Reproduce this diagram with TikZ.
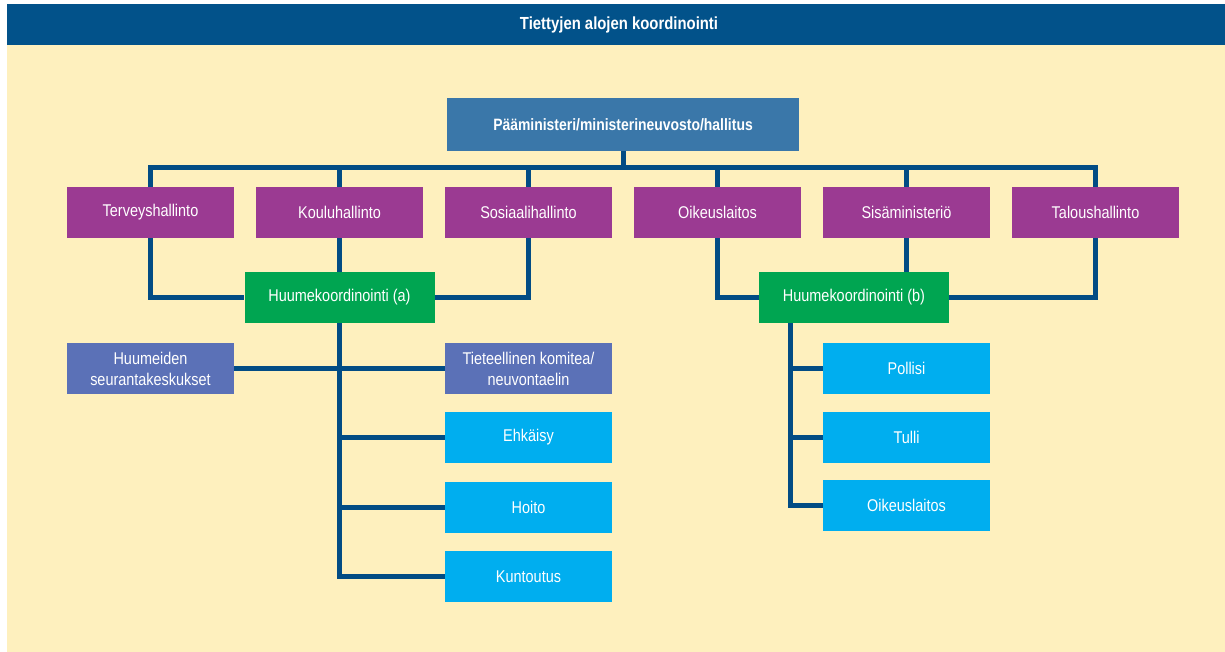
\documentclass[tikz,border=0pt]{standalone}
\usepackage{fontspec}
\setmainfont{Liberation Sans}[FakeStretch=0.85]
\usepackage{tikz}
\usetikzlibrary{positioning}
\definecolor{bannerBlue}{HTML}{02528A}
\definecolor{paperYellow}{HTML}{FEF0BE}
\definecolor{topBlue}{HTML}{3A77A9}
\definecolor{sectorPurple}{HTML}{9B3A92}
\definecolor{coordGreen}{HTML}{00A551}
\definecolor{taskCyan}{HTML}{00AEEF}
\definecolor{expertSlate}{HTML}{5B71B7}
\definecolor{linkBlue}{HTML}{024C84}

\begin{document}
\begin{tikzpicture}[x=1pt, y=-1pt,
    box/.style={minimum width=167pt, minimum height=51pt, inner sep=0pt,
        text=white, align=center, font=\fontsize{17}{21}\selectfont},
    sector/.style={box, fill=sectorPurple},
    coord/.style={box, fill=coordGreen, minimum width=190pt},
    task/.style={box, fill=taskCyan},
    expert/.style={box, fill=expertSlate},
    link/.style={draw=linkBlue, line width=5pt}]
    \useasboundingbox (0,0) rectangle (1225,652);
    \fill[paperYellow] (7,44) rectangle (1225,652);
    \fill[bannerBlue] (7,4) rectangle (1225,45);
    \node[text=white, font=\fontsize{17.5}{21}\selectfont\bfseries] (title) at (619,24.5) {Tiettyjen alojen koordinointi};
    
    % Top level
    \node[box, fill=topBlue, minimum width=352pt, minimum height=53pt, font=\fontsize{16.4}{20}\selectfont\bfseries] (govt) at (623,124.5) {Pääministeri/ministerineuvosto/hallitus};
    \coordinate (bus) at (623,168);
    
    % Administrations
    \node[sector] (terveys) at (150.5,212.5) {Terveyshallinto};
    \node[sector] (koulu) at (339.5,212.5) {Kouluhallinto};
    \node[sector] (sosiaali) at (528.5,212.5) {Sosiaalihallinto};
    \node[sector] (oikeus) at (717.5,212.5) {Oikeuslaitos};
    \node[sector] (sisa) at (906.5,212.5) {Sisäministeriö};
    \node[sector] (talous) at (1095.5,212.5) {Taloushallinto};
    
    % Coordination
    \node[coord] (coordA) at (339.5,297.5) {Huumekoordinointi (a)};
    \node[coord] (coordB) at (854,297.5) {Huumekoordinointi (b)};
    
    % Side (a)
    \node[expert] (seuranta) at (150.5,368.5) {Huumeiden\\seurantakeskukset};
    \node[expert] (komitea) at (528.5,368.5) {Tieteellinen komitea/\\neuvontaelin};
    \node[task] (ehkaisy) at (528.5,437.5) {Ehkäisy};
    \node[task] (hoito) at (528.5,507.5) {Hoito};
    \node[task] (kuntoutus) at (528.5,576.5) {Kuntoutus};
    
    % Side (b)
    \node[task] (poliisi) at (906.5,368.5) {Pollisi};
    \node[task] (tulli) at (906.5,437.5) {Tulli};
    \node[task] (oikeus2) at (906.5,505.5) {Oikeuslaitos};
    \coordinate (trunkB) at (790,323);
    
    % Connectors
    \draw[link] (govt.south) -- (bus);
    \draw[link] (terveys.north) |- (bus) -| (talous.north);
    \foreach \n in {koulu, sosiaali, oikeus, sisa}
        \draw[link] (\n.north) -- (\n.north |- bus);
    \draw[link] (terveys.south) |- (coordA.west);
    \draw[link] (sosiaali.south) |- (coordA.east);
    \draw[link] (koulu.south) -- (coordA.north);
    \draw[link] (oikeus.south) |- (coordB.west);
    \draw[link] (talous.south) |- (coordB.east);
    \draw[link] (sisa.south) -- (sisa.south |- coordB.north);
    \draw[link] (seuranta.east) -- (komitea.west);
    \draw[link] (coordA.south) |- (kuntoutus.west);
    \foreach \n in {ehkaisy, hoito}
        \draw[link] (\n.west) -- (\n.west -| coordA.south);
    \draw[link] (trunkB) |- (oikeus2.west);
    \foreach \n in {poliisi, tulli}
        \draw[link] (\n.west) -- (\n.west -| trunkB);
\end{tikzpicture}
\end{document}
